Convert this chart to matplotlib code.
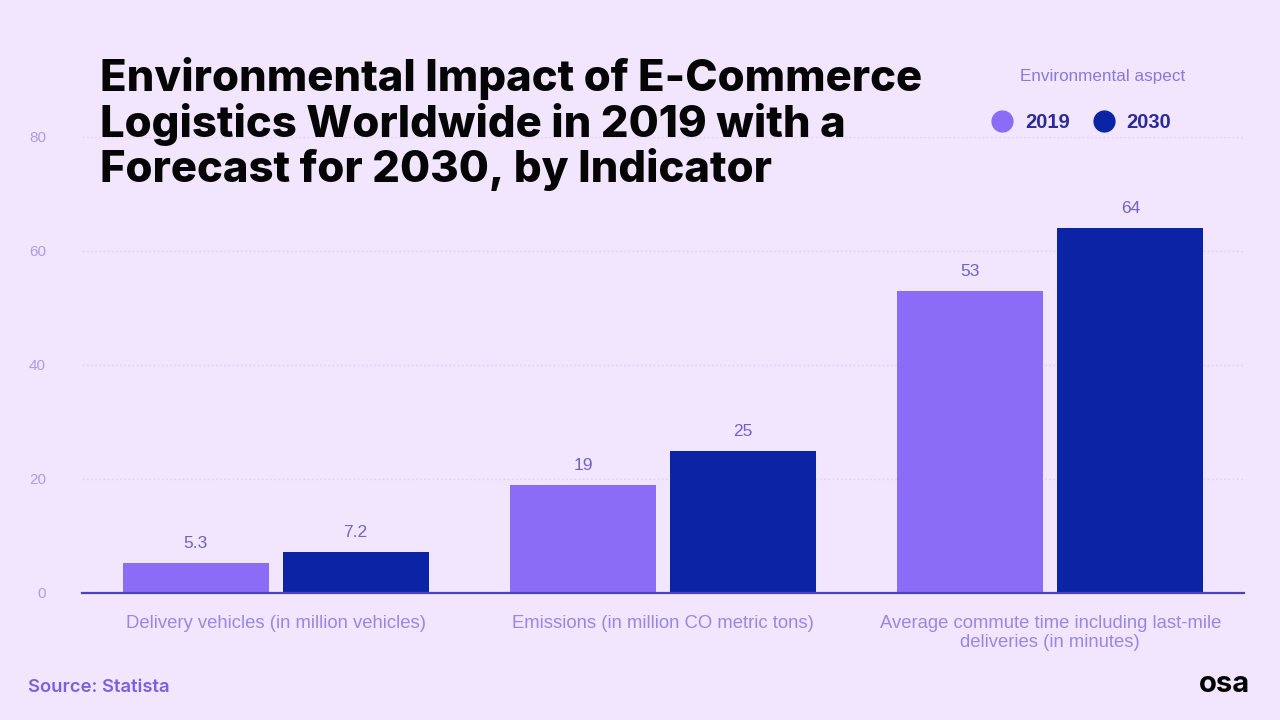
import matplotlib
matplotlib.use("Agg")
import matplotlib.pyplot as plt
import numpy as np
from matplotlib.lines import Line2D

categories = ["Delivery vehicles (in million vehicles)",
              "Emissions (in million CO metric tons)",
              "Average commute time including last-mile\ndeliveries (in minutes)"]
series_names = ["2019", "2030"]
values_2019 = [5.3, 19, 53]
values_2030 = [7.2, 25, 64]
value_labels_2019 = ["5.3", "19", "53"]
value_labels_2030 = ["7.2", "25", "64"]
yticks = [0, 20, 40, 60, 80]

BG = "#f1e6fd"
C2019 = "#8a6cf7"
C2030 = "#0b24a5"

fig = plt.figure(figsize=(12.8, 7.2), dpi=100, facecolor=BG)
W, H = 1280, 720
ax = fig.add_axes([82 / W, 1 - 593 / H, (1244 - 82) / W, (593 - 137) / H])
ax.set_facecolor("none")

x = np.arange(len(categories))
bw = 0.377
off = 0.2065
b1 = ax.bar(x - off, values_2019, bw, color=C2019, zorder=3)
b2 = ax.bar(x + off, values_2030, bw, color=C2030, zorder=3)

for bars, labs in ((b1, value_labels_2019), (b2, value_labels_2030)):
    for rect, lab in zip(bars, labs):
        ax.annotate(lab, (rect.get_x() + rect.get_width() / 2, rect.get_height()),
                    xytext=(0, 12), textcoords="offset pixels", ha="center", va="bottom",
                    fontsize=12.5, color="#6f62c8", family="Liberation Sans")

ax.set_xlim(-0.5, 2.5)
ax.set_ylim(0, 80)
ax.set_yticks(yticks)
ax.set_yticklabels([str(t) for t in yticks], family="Liberation Sans", fontsize=11, color="#ad9be9")
ax.tick_params(axis="y", length=0, pad=26)
ax.set_xticks(x)
ax.set_xticklabels(categories, family="Liberation Sans", fontsize=13.3, color="#9a86e6",
                   linespacing=1.12)
ax.tick_params(axis="x", length=0, pad=16)
for s in ["top", "right", "left"]:
    ax.spines[s].set_visible(False)
ax.spines["bottom"].set_color("#4b3fc2")
ax.spines["bottom"].set_linewidth(1.6)
ax.spines["bottom"].set_zorder(4)
for t in yticks[1:]:
    ax.axhline(t, color="#e0d5f8", lw=1, ls=(0, (1.5, 1.5)), zorder=1)

# Title
title_lines = ["Environmental Impact of E-Commerce",
               "Logistics Worldwide in 2019 with a",
               "Forecast for 2030, by Indicator"]
fig.text(100 / W, 1 - 57 / H, "\n".join(title_lines), ha="left", va="top",
         fontsize=31.4, fontweight="heavy", family=["Inter", "DejaVu Sans"], color="#050505",
         linespacing=1.08)

# Legend
fig.text(1103 / W, 1 - 77 / H, "Environmental aspect", ha="center", va="center",
         fontsize=12.3, color="#8b77de", family="Liberation Sans")
for xm, xt, name, c in ((1002, 1025, series_names[0], C2019), (1104, 1126, series_names[1], C2030)):
    fig.add_artist(Line2D([xm / W], [1 - 121 / H], marker="o", markersize=15,
                          color=c, transform=fig.transFigure, linestyle="none"))
    fig.text(xt / W, 1 - 122 / H, name, ha="left", va="center", fontsize=14.5,
             fontweight="bold", color="#2a2a9c", family="Liberation Sans")

# Source & logo
fig.text(28 / W, 1 - 687 / H, "Source: Statista", ha="left", va="center", fontsize=13.3,
         fontweight="semibold", color="#7b60e2", family=["Inter", "DejaVu Sans"])
fig.text(1225 / W, 1 - 685 / H, "osa", ha="center", va="center", fontsize=21,
         fontweight="bold", color="#000000", family=["Inter", "DejaVu Sans"])

fig.savefig("out.png", dpi=100, facecolor=BG)
